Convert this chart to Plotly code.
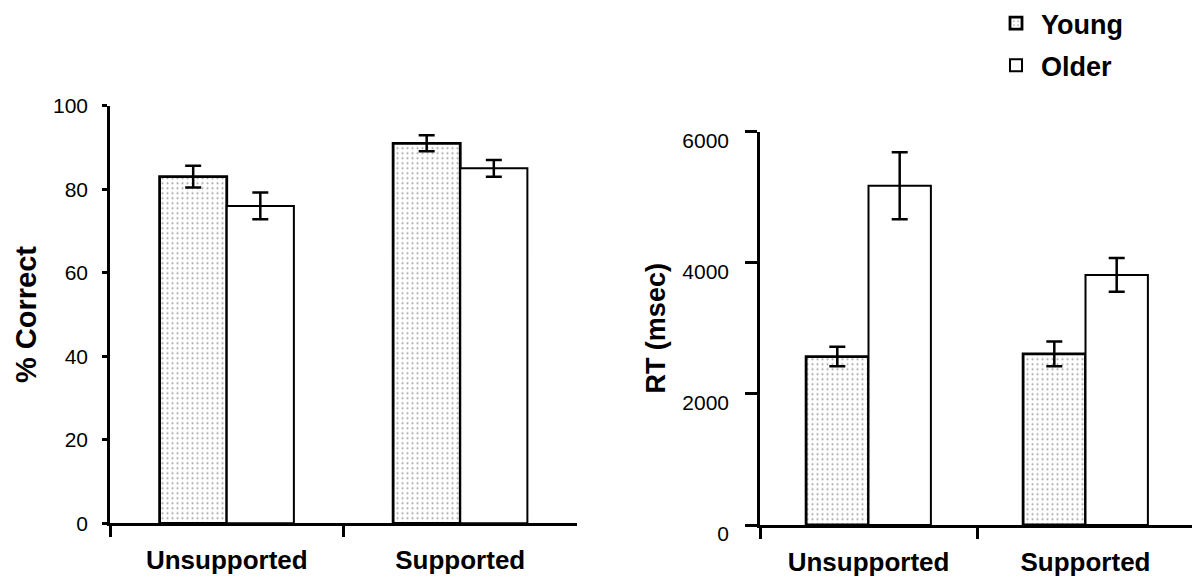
import plotly.graph_objects as go

categories = ["Unsupported", "Supported"]
groups = ["Young", "Older"]

acc_young = [83.0, 91.0]
acc_young_err = [2.6, 1.9]
acc_older = [76.0, 85.0]
acc_older_err = [3.2, 2.0]

rt_young = [2570, 2610]
rt_young_err = [150, 190]
rt_older = [5175, 3815]
rt_older_err = [510, 257]

acc_ticks = [0, 20, 40, 60, 80, 100]
rt_ticks = [0, 2000, 4000, 6000]

W, H = 1192, 579
FONT = "Liberation Sans, Arial, sans-serif"

young_marker = dict(color="white",
                    line=dict(color="black", width=2.8),
                    pattern=dict(shape=".", fgcolor="#404040", bgcolor="white",
                                 size=5, solidity=0.14, fillmode="overlay"))
older_marker = dict(color="white", line=dict(color="black", width=2))
err_style = dict(type="data", color="black", thickness=2.5, width=8, visible=True)

fig = go.Figure()
fig.add_trace(go.Bar(x=categories, y=acc_young, name=groups[0], marker=young_marker,
                     error_y=dict(array=acc_young_err, **err_style),
                     xaxis="x", yaxis="y", legendgroup="g1"))
fig.add_trace(go.Bar(x=categories, y=acc_older, name=groups[1], marker=older_marker,
                     error_y=dict(array=acc_older_err, **err_style),
                     xaxis="x", yaxis="y", legendgroup="g2"))
fig.add_trace(go.Bar(x=categories, y=rt_young, name=groups[0], marker=young_marker,
                     error_y=dict(array=rt_young_err, **err_style),
                     xaxis="x2", yaxis="y2", showlegend=False, legendgroup="g1"))
fig.add_trace(go.Bar(x=categories, y=rt_older, name=groups[1], marker=older_marker,
                     error_y=dict(array=rt_older_err, **err_style),
                     xaxis="x2", yaxis="y2", showlegend=False, legendgroup="g2"))

def px_x(p):
    return p / W

def px_y(p):
    return 1 - p / H

xcommon = dict(type="category", showline=True, linecolor="black", linewidth=2.5,
               ticks="outside", tickson="boundaries", ticklen=11, tickwidth=2.5,
               tickcolor="black", showgrid=False, zeroline=False,
               tickfont=dict(family=FONT, size=26, color="black", weight="bold"),
               ticklabelstandoff=12)
ycommon = dict(showline=True, linecolor="black", linewidth=2.5, ticks="outside",
               tickwidth=2.5, tickcolor="black", showgrid=False, zeroline=False,
               tickfont=dict(family=FONT, size=21, color="black"),
               tickmode="array")

fig.update_layout(
    width=W, height=H,
    margin=dict(l=0, r=0, t=0, b=0, autoexpand=False),
    paper_bgcolor="white", plot_bgcolor="white",
    barmode="group", bargap=0.425, bargroupgap=0,
    showlegend=True,
    legend=dict(x=px_x(991), y=px_y(-1), xanchor="left", yanchor="top",
                font=dict(family=FONT, size=27, color="black", weight="bold"),
                itemwidth=40,
                traceorder="grouped", tracegroupgap=4, bgcolor="rgba(0,0,0,0)"),
    xaxis=dict(domain=[px_x(110), px_x(577)], range=[-0.5, 1.5], anchor="y", **xcommon),
    yaxis=dict(domain=[px_y(523.3), px_y(105.7)], range=[0, 100], anchor="x",
               tickvals=acc_ticks, ticklen=5, ticklabelstandoff=10,
               title=dict(text="% Correct", standoff=8,
                          font=dict(family=FONT, size=29, color="black", weight="bold")),
               **ycommon),
    xaxis2=dict(domain=[px_x(760), 1.0], range=[-0.5, -0.5 + 432 / 217], anchor="y2", **xcommon),
    yaxis2=dict(domain=[px_y(525), px_y(131.7)], range=[0, 6000], anchor="x2",
                tickvals=rt_ticks, ticklen=12, ticklabelstandoff=12, ticklabelshift=9,
                title=dict(text="RT (msec)", standoff=9,
                           font=dict(family=FONT, size=27, color="black", weight="bold")),
                **ycommon),
)

fig.write_html("out.html")
